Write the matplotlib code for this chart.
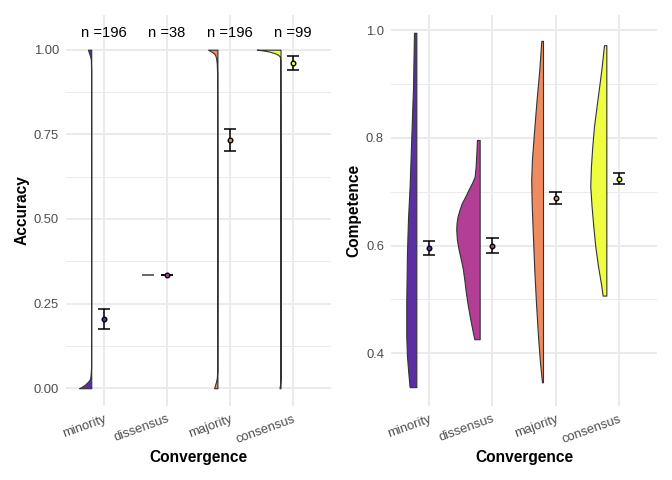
import matplotlib.pyplot as plt
from matplotlib.ticker import FixedLocator

plt.rcParams['font.family'] = ['Liberation Sans', 'DejaVu Sans']

# groups and colours
groups = ['minority', 'dissensus', 'majority', 'consensus']
colors = ['#5B2FA3', '#B23E96', '#F08A5F', '#EFFD41']
n_labels = ['n =196', 'n =38', 'n =196', 'n =99']

# accuracy: half-violin outlines (y value, half width in x units)
acc_vy = [
    [0, .005, .01, .015, .02, .025, .03, .04, .06, .5, .94, .97, .98, .99, 1.0],
    [1/3, 1/3],
    [0, .01, .02, .03, .05, .5, .93, .96, .975, .985, .99, .995, 1.0],
    [0, .01, .03, .5, .97, .98, .985, .99, .995, .998, 1.0],
]
acc_vw = [
    [0.195, 0.143, 0.103, 0.075, 0.048, 0.027, 0.017, 0.010, 0.003, 0.001, 0.002, 0.006, 0.016, 0.035, 0.052],
    [0.19, 0.19],
    [0.052, 0.037, 0.021, 0.010, 0.003, 0.001, 0.005, 0.011, 0.021, 0.037, 0.063, 0.103, 0.148],
    [0.016, 0.008, 0.002, 0.001, 0.005, 0.011, 0.040, 0.095, 0.190, 0.286, 0.376],
]
acc_mean = [0.204, 0.333, 0.734, 0.960]
acc_lo = [0.175, 0.333, 0.702, 0.940]
acc_hi = [0.233, 0.333, 0.766, 0.980]

# competence
comp_vy = [
    [0.337, 0.364, 0.395, 0.432, 0.494, 0.586, 0.648, 0.710, 0.802, 0.895, 0.995],
    [0.426, 0.438, 0.463, 0.488, 0.512, 0.537, 0.556, 0.574, 0.593, 0.611, 0.630, 0.642,
     0.654, 0.667, 0.679, 0.691, 0.704, 0.716, 0.728, 0.747, 0.772, 0.796],
    [0.346, 0.383, 0.432, 0.494, 0.556, 0.617, 0.679, 0.722, 0.759, 0.802, 0.864, 0.926, 0.980],
    [0.507, 0.525, 0.562, 0.599, 0.636, 0.673, 0.710, 0.747, 0.784, 0.821, 0.864, 0.926, 0.972],
]
comp_vw = [
    [0.106, 0.127, 0.148, 0.159, 0.159, 0.148, 0.132, 0.106, 0.079, 0.052, 0.037],
    [0.084, 0.106, 0.148, 0.186, 0.217, 0.243, 0.265, 0.297, 0.333, 0.360, 0.370, 0.365,
     0.349, 0.317, 0.281, 0.227, 0.175, 0.122, 0.079, 0.063, 0.052, 0.043],
    [0.016, 0.048, 0.079, 0.111, 0.138, 0.159, 0.179, 0.186, 0.175, 0.148, 0.106, 0.059, 0.027],
    [0.059, 0.079, 0.132, 0.175, 0.206, 0.233, 0.254, 0.243, 0.222, 0.195, 0.148, 0.079, 0.037],
]
comp_mean = [0.596, 0.600, 0.688, 0.724]
comp_lo = [0.583, 0.586, 0.677, 0.714]
comp_hi = [0.608, 0.614, 0.699, 0.735]


def raincloud(ax, vy, vw, mean, lo, hi):
    for i, col in enumerate(colors):
        x0 = i + 1 - 0.2
        left = [x0 - w for w in vw[i]]
        flat = vy[i][0] == vy[i][-1]
        ax.fill_betweenx(vy[i], left, x0, facecolor=col,
                         edgecolor='#666666' if flat else '#333333',
                         linewidth=1.4 if flat else 0.8, zorder=3)
        xc = i + 1
        ax.vlines(xc, lo[i], hi[i], color='black', linewidth=1.1, zorder=4)
        ax.hlines([lo[i], hi[i]], xc - 0.1, xc + 0.1, color='black', linewidth=1.1, zorder=4)
        ax.plot(xc, mean[i], 'o', markersize=3.3, markerfacecolor=col,
                markeredgecolor='black', markeredgewidth=1.0, zorder=5)


def style(ax):
    ax.set_xlim(0.4, 4.6)
    ax.set_xticks(range(1, 5))
    ax.set_xticklabels(groups, rotation=20, ha='right', rotation_mode='anchor')
    ax.grid(which='major', color='#EBEBEB', linewidth=1.4, zorder=0)
    ax.grid(which='minor', axis='y', color='#EBEBEB', linewidth=0.7, zorder=0)
    ax.set_axisbelow(True)
    for s in ax.spines.values():
        s.set_visible(False)
    ax.tick_params(which='both', length=0, labelsize=9.4, labelcolor='#4D4D4D', pad=5)
    ax.set_xlabel('Convergence', fontsize=11.2, fontweight='bold', labelpad=3)


fig = plt.figure(figsize=(6.72, 4.8), dpi=100)
ax1 = fig.add_axes([66 / 672, 74 / 480, 265 / 672, 391 / 480])
ax2 = fig.add_axes([391 / 672, 74 / 480, 266 / 672, 391 / 480])

raincloud(ax1, acc_vy, acc_vw, acc_mean, acc_lo, acc_hi)
for i, t in enumerate(n_labels):
    ax1.text(i + 1, 1.05, t, ha='center', va='center', fontsize=10.6, color='black')
style(ax1)
ax1.set_ylim(-0.0525, 1.1025)
ax1.yaxis.set_major_locator(FixedLocator([0, 0.25, 0.5, 0.75, 1.0]))
ax1.yaxis.set_minor_locator(FixedLocator([0.125, 0.375, 0.625, 0.875]))
ax1.set_yticklabels(['0.00', '0.25', '0.50', '0.75', '1.00'])
ax1.set_ylabel('Accuracy', fontsize=11.2, fontweight='bold', labelpad=3)

raincloud(ax2, comp_vy, comp_vw, comp_mean, comp_lo, comp_hi)
style(ax2)
ax2.set_ylim(0.302, 1.028)
ax2.yaxis.set_major_locator(FixedLocator([0.4, 0.6, 0.8, 1.0]))
ax2.yaxis.set_minor_locator(FixedLocator([0.5, 0.7, 0.9]))
ax2.set_yticklabels(['0.4', '0.6', '0.8', '1.0'])
ax2.set_ylabel('Competence', fontsize=11.2, fontweight='bold', labelpad=3)

fig.savefig('out.png', dpi=100)
